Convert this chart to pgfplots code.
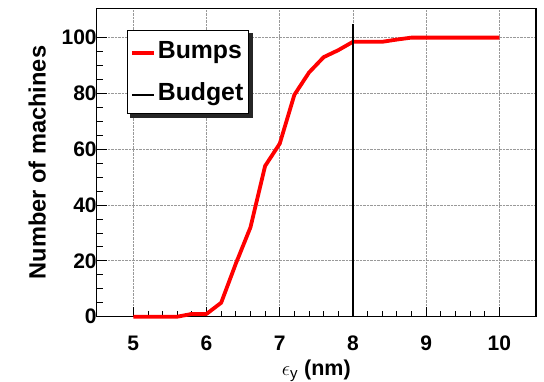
\documentclass[border=0pt]{standalone}
\usepackage{pgfplots}
\pgfplotsset{compat=1.18}
\usepackage{fontspec}
\setmainfont{Liberation Sans}
\begin{document}
\begin{tikzpicture}
\begin{axis}[
  at={(0pt,0pt)}, anchor=south west,
  scale only axis, width=439.3pt, height=308.4pt,
  xmin=4.5, xmax=10.5, ymin=0, ymax=110.5,
  xtick={5,6,7,8,9,10}, ytick={0,20,40,60,80,100},
  minor x tick num=4, minor y tick num=3,
  tick align=inside, xtick pos=bottom, ytick pos=left,
  major tick length=10pt, minor tick length=6pt,
  tick style={black, line width=0.9pt},
  grid=major, major grid style={densely dotted, gray!80, line width=0.8pt},
  axis line style={line width=1.5pt},
  clip=false,
  /pgf/number format/assume math mode=true,
  ticklabel style={font=\bfseries\fontsize{21}{21}\selectfont},
  xticklabel style={yshift=-16pt},
  yticklabel style={xshift=3.5pt},
  xlabel={$\epsilon_{\mathrm{y}}$ (nm)},
  xlabel style={at={(axis description cs:0.5,0)}, anchor=base, yshift=-58.8pt, font=\bfseries\fontsize{21.5}{21.5}\selectfont},
  ylabel={Number of machines},
  ylabel style={at={(axis description cs:-0.1354,0.5)}, anchor=center, font=\bfseries\fontsize{23.6}{23.6}\selectfont},
  legend style={at={(axis description cs:0.068,0.93)}, anchor=north west,
    name=leg,
    draw=black, line width=1pt, fill=white,
    font=\bfseries\fontsize{24.8}{24.8}\selectfont,
    inner xsep=3pt, inner ysep=9pt, row sep=19pt,
    nodes={inner sep=2pt},
    cells={anchor=west}},
  legend image code/.code={\draw[#1] (0pt,-2pt) -- (22pt,-2pt);},
]
\addplot[red, line width=3.8pt, line join=round] coordinates {
(5.0,0) (5.2,0) (5.4,0) (5.6,0) (5.8,1) (6.0,1) (6.2,5) (6.4,19) (6.6,32)
(6.8,54) (7.0,62) (7.2,79.5) (7.4,87.5) (7.6,93) (7.8,95.5) (8.0,98.5)
(8.2,98.5) (8.4,98.5) (8.6,99.3) (8.8,100) (9.0,100) (9.2,100) (9.4,100)
(9.6,100) (9.8,100) (10.0,100)};
\addlegendentry{Bumps}
\addplot[black, line width=1.8pt] coordinates {(8,0) (8,105)};
\addlegendentry{Budget}
\end{axis}
\fill[black!85] ([shift={(3.5pt,-4pt)}]leg.south west) rectangle ([shift={(4pt,0pt)}]leg.south east);
\fill[black!85] ([shift={(0.5pt,-4pt)}]leg.south east) rectangle ([shift={(4pt,-3.5pt)}]leg.north east);
\pgfresetboundingbox
\useasboundingbox (-96.7pt,-64.3pt) rectangle (447.3pt,316.7pt);
\end{tikzpicture}
\end{document}
